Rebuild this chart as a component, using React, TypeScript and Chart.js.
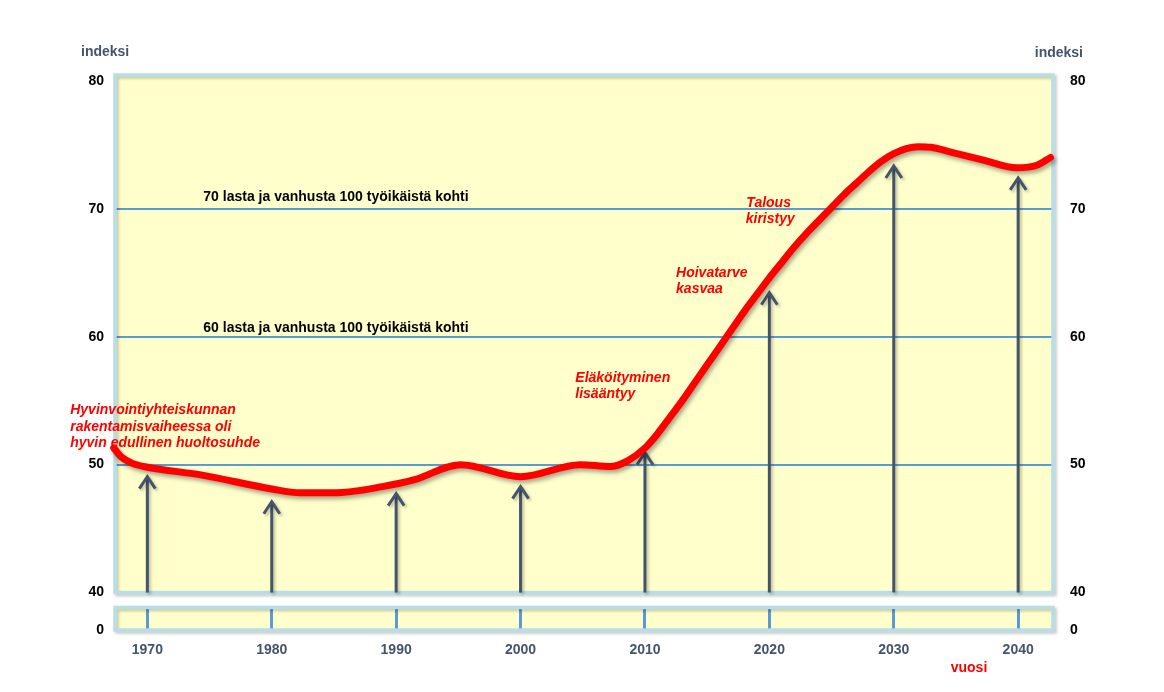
import React, { useEffect, useRef } from "react";
import { Chart, registerables } from "chart.js";

Chart.register(...registerables);

// ---- data ----
const lineYears = [1967.3, 1967.9, 1968.8, 1970, 1974.3, 1980, 1982.3, 1985, 1989, 1991.4, 1995.2, 2000, 2004.8, 2007.2, 2008.6, 2010, 2011, 2012, 2013, 2014, 2015, 2016, 2017, 2018, 2019, 2020, 2021, 2022, 2023, 2024, 2025, 2026, 2027, 2028, 2029, 2030, 2031, 2032, 2033, 2034.5, 2037.2, 2039.9, 2041.5, 2042.6];
const lineValues = [51.3, 50.6, 50.1, 49.8, 49.2, 48.1, 47.8, 47.8, 48.3, 48.8, 50.0, 49.06, 50.0, 49.85, 50.3, 51.3, 52.4, 53.7, 55.0, 56.4, 57.8, 59.2, 60.6, 62.0, 63.3, 64.6, 65.8, 67.0, 68.1, 69.1, 70.1, 71.1, 72.0, 72.9, 73.7, 74.3, 74.7, 74.85, 74.8, 74.45, 73.8, 73.2, 73.4, 74.0];

const decadeYears = [1970, 1980, 1990, 2000, 2010, 2020, 2030, 2040];
const arrowTips = [49.06, 47.1, 47.73, 48.28, 50.93, 63.43, 73.34, 72.41];

const yTicks = [40, 50, 60, 70, 80];
const gridValues = [50, 60, 70];
const stripTicks = [0];

const noteTexts = [
  "Hyvinvointiyhteiskunnan",
  "rakentamisvaiheessa oli",
  "hyvin edullinen huoltosuhde",
  "70 lasta ja vanhusta 100 työikäistä kohti",
  "60 lasta ja vanhusta 100 työikäistä kohti",
  "Eläköityminen",
  "lisääntyy",
  "Hoivatarve",
  "kasvaa",
  "Talous",
  "kiristyy",
];
const noteYears = [1963.8, 1963.8, 1963.8, 1974.5, 1974.5, 2004.4, 2004.4, 2012.5, 2012.5, 2018.15, 2018.1];
const noteValues = [54.29, 52.96, 51.71, 70.92, 60.69, 56.79, 55.54, 64.99, 63.74, 70.45, 69.2];
const noteRed = [true, true, true, false, false, true, true, true, true, true, true];

const X_MIN = 1967.4;
const X_MAX = 2042.8;
const Y_MIN = 40;
const Y_MAX = 80.45;

const FONT = '"Liberation Sans", Arial, Helvetica, sans-serif';
const BG = "#FFFFCC";
const FRAME = "#B7DEE8";
const GRID = "#5B9BD5";
const ARROW = "#44546A";
const RED = "#FF0000";

const bgPlugin = {
  id: "bgFill",
  beforeDraw(chart: any) {
    const { ctx, chartArea: a } = chart;
    ctx.save();
    ctx.fillStyle = BG;
    ctx.fillRect(a.left, a.top, a.right - a.left, a.bottom - a.top);
    ctx.restore();
  },
};

const framePlugin = {
  id: "frame",
  beforeDatasetsDraw(chart: any) {
    const { ctx, chartArea: a } = chart;
    ctx.save();
    ctx.shadowColor = "rgba(0,0,0,0.22)";
    ctx.shadowBlur = 3;
    ctx.shadowOffsetX = 2;
    ctx.shadowOffsetY = 2;
    ctx.strokeStyle = FRAME;
    ctx.lineWidth = 3.5;
    ctx.strokeRect(a.left, a.top, a.right - a.left, a.bottom - a.top);
    ctx.restore();
  },
};

const arrowsPlugin = {
  id: "arrows",
  beforeDatasetsDraw(chart: any) {
    const { ctx } = chart;
    const xs = chart.scales.x;
    const ys = chart.scales.y;
    ctx.save();
    ctx.shadowColor = "rgba(0,0,0,0.25)";
    ctx.shadowBlur = 3;
    ctx.shadowOffsetX = 2;
    ctx.shadowOffsetY = 2;
    ctx.strokeStyle = ARROW;
    ctx.lineWidth = 3;
    ctx.lineCap = "butt";
    ctx.lineJoin = "miter";
    decadeYears.forEach((yr, i) => {
      const x = xs.getPixelForValue(yr);
      const yTip = ys.getPixelForValue(arrowTips[i]);
      const yBot = ys.getPixelForValue(Y_MIN);
      ctx.beginPath();
      ctx.moveTo(x, yBot);
      ctx.lineTo(x, yTip + 1);
      ctx.stroke();
      ctx.beginPath();
      ctx.moveTo(x - 8, yTip + 12);
      ctx.lineTo(x, yTip);
      ctx.lineTo(x + 8, yTip + 12);
      ctx.stroke();
    });
    ctx.restore();
  },
};

const shadowPlugin = {
  id: "lineShadow",
  beforeDatasetDraw(chart: any) {
    const ctx = chart.ctx;
    ctx.save();
    ctx.shadowColor = "rgba(0,0,0,0.35)";
    ctx.shadowBlur = 4;
    ctx.shadowOffsetX = 2;
    ctx.shadowOffsetY = 3;
  },
  afterDatasetDraw(chart: any) {
    chart.ctx.restore();
  },
};

const textPlugin = {
  id: "notes",
  afterDatasetsDraw(chart: any) {
    const { ctx, chartArea: a } = chart;
    const xs = chart.scales.x;
    const ys = chart.scales.y;
    ctx.save();
    ctx.textBaseline = "middle";
    ctx.textAlign = "left";
    noteTexts.forEach((t, i) => {
      const x = xs.getPixelForValue(noteYears[i]);
      const y = ys.getPixelForValue(noteValues[i]);
      if (noteRed[i]) {
        ctx.fillStyle = RED;
        ctx.font = `bold italic 14px ${FONT}`;
      } else {
        ctx.fillStyle = "#000000";
        ctx.font = `bold 14px ${FONT}`;
      }
      ctx.fillText(t, x, y);
    });
    // axis titles
    ctx.fillStyle = ARROW;
    ctx.font = `bold 14px ${FONT}`;
    ctx.textAlign = "left";
    ctx.fillText("indeksi", a.left - 34, a.top - 23);
    ctx.textAlign = "right";
    ctx.fillText("indeksi", a.right + 30, a.top - 22);
    ctx.restore();
  },
};

const stripTextPlugin = {
  id: "stripText",
  afterDraw(chart: any) {
    const { ctx, chartArea: a } = chart;
    ctx.save();
    ctx.fillStyle = RED;
    ctx.font = `bold 14px ${FONT}`;
    ctx.textAlign = "center";
    ctx.textBaseline = "middle";
    ctx.fillText("vuosi", a.right - 84, a.bottom + 38);
    ctx.restore();
  },
};

const tickFont = { family: FONT, size: 14, weight: "bold" as const };

export default function App() {
  const mainRef = useRef<HTMLCanvasElement | null>(null);
  const stripRef = useRef<HTMLCanvasElement | null>(null);

  useEffect(() => {
    if (!mainRef.current || !stripRef.current) return;

    const main = new Chart(mainRef.current, {
      type: "line",
      data: {
        datasets: [
          {
            data: lineYears.map((x, i) => ({ x, y: lineValues[i] })),
            borderColor: RED,
            borderWidth: 7,
            pointRadius: 0,
            cubicInterpolationMode: "monotone",
            clip: false as any,
            borderCapStyle: "round",
            borderJoinStyle: "round",
            fill: false,
          } as any,
        ],
      },
      options: {
        responsive: false,
        maintainAspectRatio: false,
        animation: false,
        events: [],
        layout: { padding: { top: 75, bottom: 0, left: 0, right: 0 } },
        plugins: { legend: { display: false }, tooltip: { enabled: false } },
        scales: {
          x: { type: "linear", min: X_MIN, max: X_MAX, display: false },
          y: {
            position: "left",
            min: Y_MIN,
            max: Y_MAX,
            afterFit: (s: any) => {
              s.width = 115;
            },
            afterBuildTicks: (s: any) => {
              s.ticks = yTicks.map((v) => ({ value: v }));
            },
            grid: {
              color: (c: any) => (gridValues.includes(c.tick?.value) ? GRID : "rgba(0,0,0,0)"),
              lineWidth: 2,
              drawTicks: false,
            },
            border: { display: false },
            ticks: { padding: 11, color: "#000", font: tickFont, callback: (v: any) => String(v) },
          },
          y2: {
            position: "right",
            min: Y_MIN,
            max: Y_MAX,
            afterFit: (s: any) => {
              s.width = 111;
            },
            afterBuildTicks: (s: any) => {
              s.ticks = yTicks.map((v) => ({ value: v }));
            },
            grid: { display: false, drawTicks: false },
            border: { display: false },
            ticks: { padding: 17, color: "#000", font: tickFont, callback: (v: any) => String(v) },
          },
        },
      } as any,
      plugins: [bgPlugin, framePlugin, arrowsPlugin, shadowPlugin, textPlugin],
    });

    const strip = new Chart(stripRef.current, {
      type: "line",
      data: { datasets: [] },
      options: {
        responsive: false,
        maintainAspectRatio: false,
        animation: false,
        events: [],
        layout: { padding: { top: 0, bottom: 0, left: 0, right: 0 } },
        plugins: { legend: { display: false }, tooltip: { enabled: false } },
        scales: {
          x: {
            type: "linear",
            position: "bottom",
            min: X_MIN,
            max: X_MAX,
            afterFit: (s: any) => {
              s.height = 62;
            },
            afterBuildTicks: (s: any) => {
              s.ticks = decadeYears.map((v) => ({ value: v }));
            },
            grid: { color: GRID, lineWidth: 3, drawTicks: false },
            border: { display: false },
            ticks: {
              padding: 12,
              color: ARROW,
              font: tickFont,
              autoSkip: false,
              maxRotation: 0,
              callback: (v: any) => String(v),
            },
          },
          y: {
            position: "left",
            min: 0,
            max: 1,
            afterFit: (s: any) => {
              s.width = 115;
            },
            afterBuildTicks: (s: any) => {
              s.ticks = stripTicks.map((v) => ({ value: v }));
            },
            grid: { display: false, drawTicks: false },
            border: { display: false },
            ticks: { padding: 11, color: "#000", font: tickFont, callback: (v: any) => String(v) },
          },
          y2: {
            position: "right",
            min: 0,
            max: 1,
            afterFit: (s: any) => {
              s.width = 111;
            },
            afterBuildTicks: (s: any) => {
              s.ticks = stripTicks.map((v) => ({ value: v }));
            },
            grid: { display: false, drawTicks: false },
            border: { display: false },
            ticks: { padding: 17, color: "#000", font: tickFont, callback: (v: any) => String(v) },
          },
        },
      } as any,
      plugins: [bgPlugin, framePlugin, stripTextPlugin],
    });

    return () => {
      main.destroy();
      strip.destroy();
    };
  }, []);

  return (
    <div style={{ position: "absolute", left: 0, top: 0, width: 1164, height: 692, background: "#ffffff", overflow: "hidden" }}>
      <canvas ref={mainRef} width={1164} height={618} style={{ position: "absolute", left: 0, top: 0, width: 1164, height: 618 }} />
      <canvas ref={stripRef} width={1164} height={110} style={{ position: "absolute", left: 0, top: 582, width: 1164, height: 110 }} />
    </div>
  );
}
